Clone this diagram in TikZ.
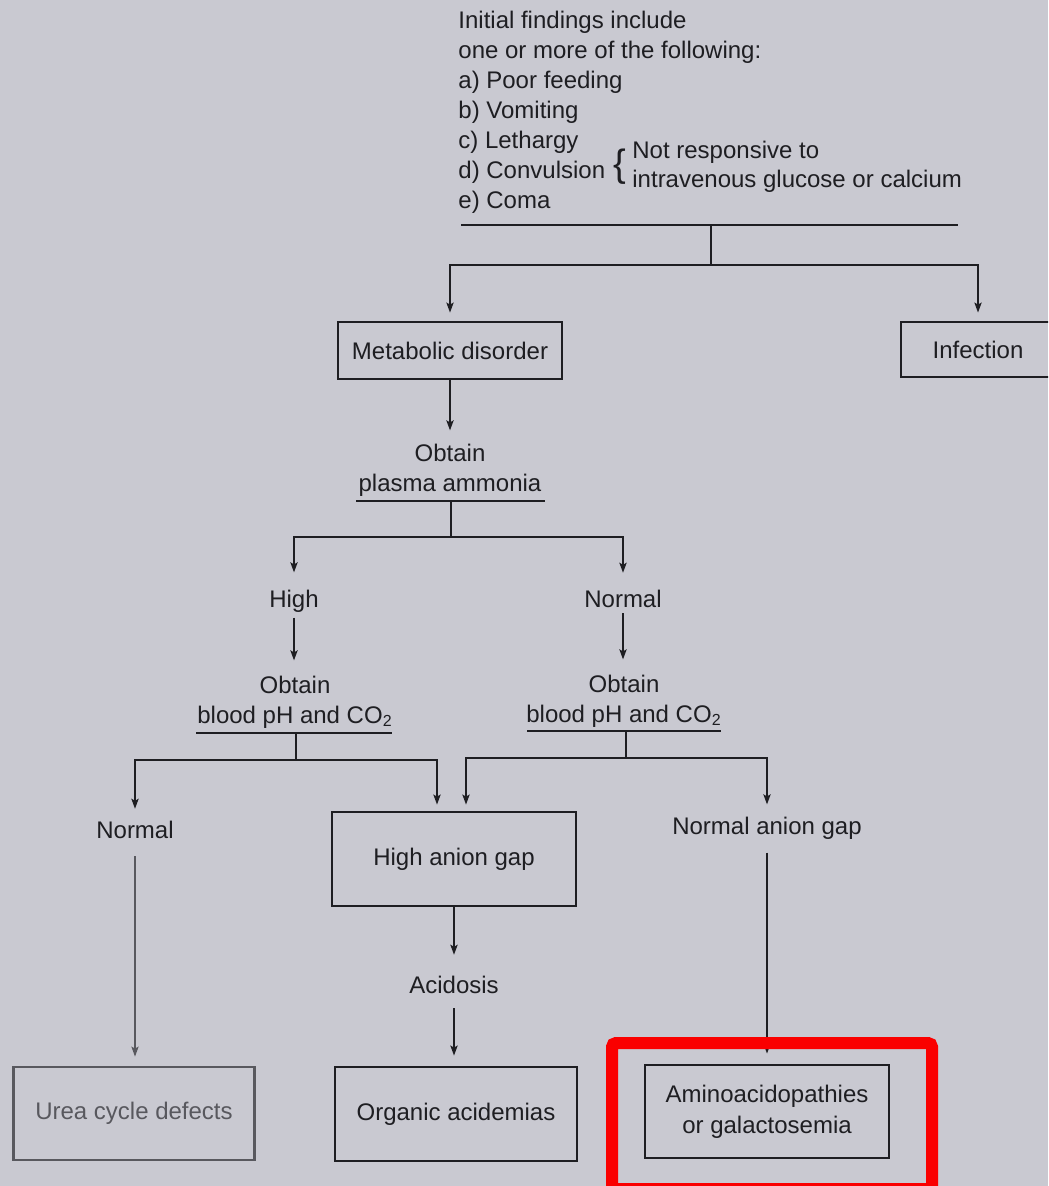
\documentclass[tikz,border=0pt]{standalone}
\usepackage{fontspec}
\setmainfont{Liberation Sans}
\usetikzlibrary{arrows.meta}
\definecolor{paper}{RGB}{201,201,209}
\definecolor{ink}{RGB}{30,30,34}
\definecolor{faded}{RGB}{88,88,94}
\definecolor{hilite}{RGB}{250,0,0}

\begin{document}
\begin{tikzpicture}[x=0.5pt,y=-0.5pt,
  every node/.style={font=\fontsize{12}{15}\selectfont, text=ink, inner sep=0pt},
  lbl/.style={align=center},
  stepbox/.style={draw=ink, line width=1.4pt, align=center},
  conn/.style={draw=ink, line width=0.9pt},
  arr/.style={conn, -{Stealth[length=5pt,width=3.6pt,inset=1pt]}},
]
% page
\useasboundingbox (0,0) rectangle (1048,1186);
\clip (0,0) rectangle (1048,1186);
\fill[paper] (0,0) rectangle (1048,1186);

% opening criteria
\node[anchor=north west, align=left] (intro) at (458,10.5)
  {Initial findings include\\
   one or more of the following:\\
   a) Poor feeding\\
   b) Vomiting\\
   c) Lethargy\\
   d) Convulsion\\
   e) Coma};
\node (brace) at (620,167) {\fontsize{19}{19}\selectfont\{};
\node[anchor=north west, align=left, font=\fontsize{12}{14.5}\selectfont] (notresp) at (632,141)
  {Not responsive to\\ intravenous glucose or calcium};

% boxes
\node[stepbox, minimum width=112pt, minimum height=28.5pt] (meta) at (450,350.5) {Metabolic disorder};
\node[stepbox, minimum width=77pt, minimum height=27.5pt] (infect) at (978,349.5) {Infection};
\node[stepbox, minimum width=122pt, minimum height=47pt] (hag) at (454,859) {High anion gap};
\node[stepbox, draw=faded, minimum width=120.5pt, minimum height=46.5pt, text=faded] (urea) at (134,1113.5) {Urea cycle defects};
\node[stepbox, minimum width=121pt, minimum height=47pt] (organic) at (456,1114) {Organic acidemias};
\node[stepbox, minimum width=122pt, minimum height=46.5pt, font=\fontsize{12}{15.5}\selectfont] (amino) at (767,1111.5) {Aminoacidopathies\\ or galactosemia};

% plain labels
\node[lbl] (ammonia) at (450,470) {Obtain\\ plasma ammonia};
\node (high) at (294,601) {High};
\node (normA) at (623,599) {Normal};
\node[lbl] (phL) at (295,702) {Obtain\\ blood pH and CO\textsubscript{2}};
\node[lbl] (phR) at (624,701) {Obtain\\ blood pH and CO\textsubscript{2}};
\node (normB) at (135,830) {Normal};
\node (acid) at (454,985) {Acidosis};
\node (nag) at (767,828) {Normal anion gap};

% junction points
\coordinate (topL) at (461,225);
\coordinate (topR) at (958,225);
\coordinate (topM) at (711,225);
\coordinate (topS) at (711,265);

\coordinate (amL) at (356,501);
\coordinate (amR) at (545,501);
\coordinate (amM) at (451,501);
\coordinate (amS) at (451,537);

\coordinate (pLL) at (196,733);
\coordinate (pLR) at (392,733);
\coordinate (pLM) at (296,733);
\coordinate (pLS) at (296,760);

\coordinate (pRL) at (527,731);
\coordinate (pRR) at (721,731);
\coordinate (pRM) at (626,731);
\coordinate (pRS) at (626,758);

% first split
\draw[conn] (topL) -- (topR);
\draw[conn] (topM) -- (topS);
\draw[arr, shorten >=4pt] (topS) -| (meta.north);
\draw[arr, shorten >=4pt] (topS) -| (infect.north);

% ammonia
\draw[arr, shorten >=6.5pt] (meta.south) -- (ammonia.north -| meta.south);
\draw[conn] (amL) -- (amR);
\draw[conn] (amM) -- (amS);
\draw[arr, shorten >=8.5pt] (amS) -| (high.north);
\draw[arr, shorten >=8.5pt] (amS) -| (normA.north);

% pH and CO2
\draw[arr, shorten <=2.5pt, shorten >=7.5pt] (high.south) -- (phL.north -| high.south);
\draw[arr, shorten <=2.5pt, shorten >=7.5pt] (normA.south) -- (phR.north -| normA.south);

\draw[conn] (pLL) -- (pLR);
\draw[conn] (pLM) -- (pLS);
\draw[arr, shorten >=6pt] (pLS) -| (normB.north);
\draw[arr, shorten >=3pt] (pLS) -| ([xshift=-8.5pt]hag.north);

\draw[conn] (pRL) -- (pRR);
\draw[conn] (pRM) -- (pRS);
\draw[arr, shorten >=3pt] (pRS) -| ([xshift=6pt]hag.north);
\draw[arr, shorten >=6pt] (pRS) -| (nag.north);

% outcomes
\draw[arr, draw=faded, line width=0.7pt, shorten <=8.5pt, shorten >=4.5pt] (normB.south) -- (urea.north -| normB.south);
\draw[arr, shorten >=10.5pt] (hag.south) -- (acid.north -| hag.south);
\draw[arr, shorten <=7pt, shorten >=5pt] (acid.south) -- (organic.north -| acid.south);
\draw[arr, shorten <=6.5pt, shorten >=5pt] (nag.south) -- (amino.north -| nag.south);

% highlight frame
\draw[hilite, line width=6pt, rounded corners=2pt] (612,1043) rectangle (932,1189);
\end{tikzpicture}
\end{document}
